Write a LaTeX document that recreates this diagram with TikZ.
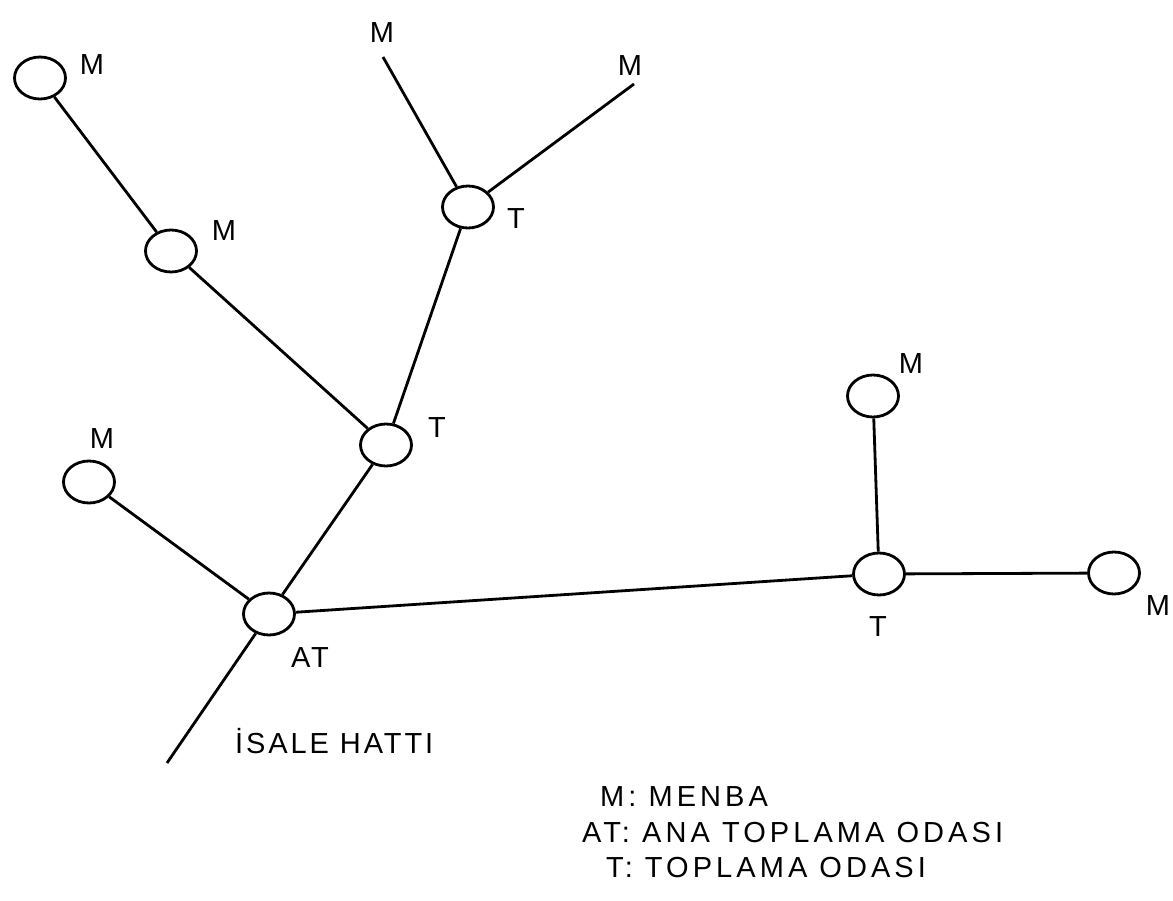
\documentclass[tikz,border=0pt]{standalone}
\usepackage{fontspec}
\setmainfont{Liberation Sans}[LetterSpace=10]
\usetikzlibrary{shapes.geometric}
\begin{document}
\begin{tikzpicture}[x=1pt,y=-1pt,
  chamber/.style={ellipse,draw,line width=2.8pt,minimum width=51pt,minimum height=42pt,inner sep=0pt},
  pipe/.style={line width=2.8pt},
  lbl/.style={font=\fontsize{29}{34}\selectfont,inner sep=0pt},
  key/.style={lbl,anchor=west,font=\fontsize{29}{34}\selectfont\addfontfeature{LetterSpace=14}}]
\useasboundingbox (0,0) rectangle (1173,901);
% collection chambers
\node[chamber] (m1) at (40,78) {};
\node[chamber] (m2) at (171,251) {};
\node[chamber] (ttop) at (468,207) {};
\node[chamber] (tmid) at (386,445) {};
\node[chamber] (mleft) at (89,482) {};
\node[chamber] (at) at (269,614) {};
\node[chamber] (tright) at (879,574) {};
\node[chamber] (mrtop) at (873,396) {};
\node[chamber] (mright) at (1114,573) {};
% free pipe ends
\coordinate (sa) at (383,57);
\coordinate (sb) at (634,84);
\coordinate (out) at (167,763);
% pipes
\draw[pipe] (m1) -- (m2);
\draw[pipe] (m2) -- (tmid);
\draw[pipe] (sa) -- (ttop);
\draw[pipe] (sb) -- (ttop);
\draw[pipe] (ttop) -- (tmid);
\draw[pipe] (tmid) -- (at);
\draw[pipe] (mleft) -- (at);
\draw[pipe] (at) -- (tright);
\draw[pipe] (at) -- (out);
\draw[pipe] (mrtop) -- (tright);
\draw[pipe] (tright) -- (mright);
% labels
\node[lbl] (l1) at (92,65) {M};
\node[lbl] (l2) at (224,231) {M};
\node[lbl] (l3) at (382,33) {M};
\node[lbl] (l4) at (630,66) {M};
\node[lbl] (l5) at (516,219) {T};
\node[lbl] (l6) at (437,428) {T};
\node[lbl] (l7) at (102,439) {M};
\node[lbl] (l8) at (310,658) {AT};
\node[lbl] (l9) at (878,627) {T};
\node[lbl] (l10) at (911,364) {M};
\node[lbl] (l11) at (1158,606) {M};
\node[lbl,anchor=west] (isale) at (235,741) {İSALE HATTI};
% legend
\node[key] (k1) at (600,797) {M: MENBA};
\node[key] (k2) at (582,833) {AT: ANA TOPLAMA ODASI};
\node[key] (k3) at (606,868) {T: TOPLAMA ODASI};
\end{tikzpicture}
\end{document}
